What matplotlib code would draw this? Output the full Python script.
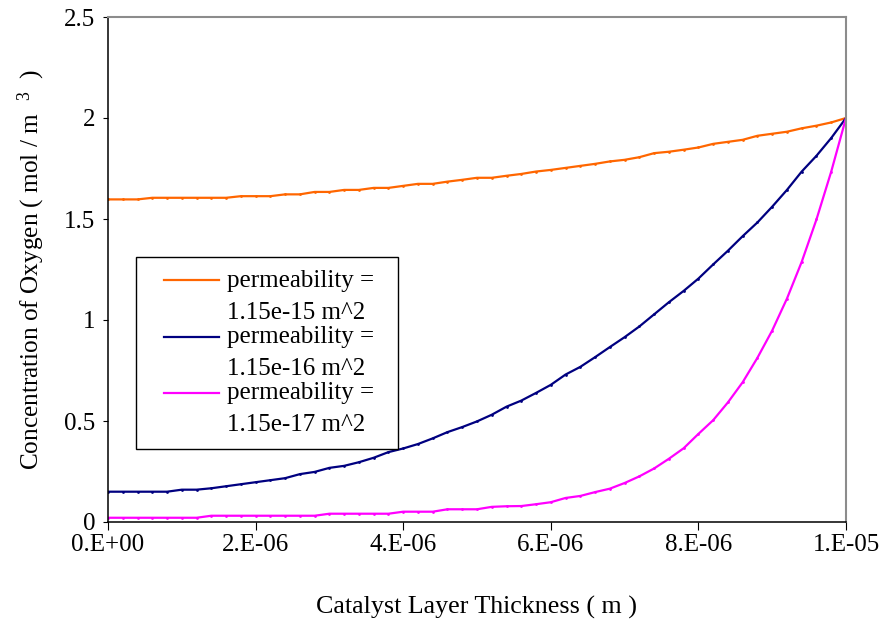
import numpy as np
import matplotlib
matplotlib.use("Agg")
import matplotlib.pyplot as plt

plt.rcParams['font.family'] = ['Liberation Serif', 'DejaVu Serif']
plt.rcParams['mathtext.fontset'] = 'custom'
plt.rcParams['mathtext.rm'] = 'Liberation Serif'
plt.rcParams['mathtext.it'] = 'Liberation Serif:italic'

# ---- data ----
thickness = [0.0, 0.2e-6, 0.4e-6, 0.6e-6, 0.8e-6, 1.0e-6, 1.2e-6, 1.4e-6, 1.6e-6, 1.8e-6,
             2.0e-6, 2.2e-6, 2.4e-6, 2.6e-6, 2.8e-6, 3.0e-6, 3.2e-6, 3.4e-6, 3.6e-6, 3.8e-6,
             4.0e-6, 4.2e-6, 4.4e-6, 4.6e-6, 4.8e-6, 5.0e-6, 5.2e-6, 5.4e-6, 5.6e-6, 5.8e-6,
             6.0e-6, 6.2e-6, 6.4e-6, 6.6e-6, 6.8e-6, 7.0e-6, 7.2e-6, 7.4e-6, 7.6e-6, 7.8e-6,
             8.0e-6, 8.2e-6, 8.4e-6, 8.6e-6, 8.8e-6, 9.0e-6, 9.2e-6, 9.4e-6, 9.6e-6, 9.8e-6,
             1.0e-5]

conc_k15 = [1.597, 1.597, 1.597, 1.605, 1.605, 1.605, 1.605, 1.605, 1.605, 1.613,
            1.613, 1.613, 1.622, 1.622, 1.634, 1.634, 1.644, 1.644, 1.654, 1.654,
            1.664, 1.674, 1.674, 1.685, 1.694, 1.704, 1.704, 1.714, 1.723, 1.735,
            1.743, 1.753, 1.763, 1.773, 1.785, 1.793, 1.806, 1.826, 1.833, 1.843,
            1.854, 1.872, 1.882, 1.892, 1.912, 1.922, 1.932, 1.949, 1.962, 1.978,
            2.000]

conc_k16 = [0.150, 0.150, 0.150, 0.150, 0.150, 0.160, 0.160, 0.167, 0.177, 0.187,
            0.197, 0.207, 0.217, 0.237, 0.248, 0.268, 0.278, 0.296, 0.318, 0.346,
            0.364, 0.386, 0.414, 0.445, 0.470, 0.498, 0.531, 0.571, 0.601, 0.639,
            0.679, 0.730, 0.768, 0.816, 0.866, 0.915, 0.968, 1.028, 1.088, 1.144,
            1.205, 1.275, 1.343, 1.415, 1.483, 1.561, 1.644, 1.735, 1.813, 1.901,
            2.000]

conc_k17 = [0.021, 0.021, 0.021, 0.021, 0.021, 0.021, 0.021, 0.031, 0.031, 0.031,
            0.031, 0.031, 0.031, 0.031, 0.031, 0.041, 0.041, 0.041, 0.041, 0.041,
            0.051, 0.051, 0.051, 0.063, 0.063, 0.063, 0.075, 0.078, 0.079, 0.088,
            0.098, 0.119, 0.129, 0.148, 0.165, 0.193, 0.226, 0.265, 0.313, 0.365,
            0.436, 0.504, 0.592, 0.692, 0.813, 0.948, 1.106, 1.288, 1.498, 1.735,
            2.000]

series_labels = ["permeability =\n1.15e-15 m^2",
                 "permeability =\n1.15e-16 m^2",
                 "permeability =\n1.15e-17 m^2"]
series_colors = ["#FF6600", "#000080", "#FF00FF"]

x_ticks = [0.0, 2e-6, 4e-6, 6e-6, 8e-6, 1e-5]
x_tick_labels = ["0.E+00", "2.E-06", "4.E-06", "6.E-06", "8.E-06", "1.E-05"]
y_ticks = [0, 0.5, 1.0, 1.5, 2.0, 2.5]
y_tick_labels = ["0", "0.5", "1", "1.5", "2", "2.5"]

# ---- figure ----
W, H = 881, 622
fig = plt.figure(figsize=(W / 100, H / 100), dpi=100)
ax = fig.add_axes([108 / W, 100 / H, 738 / W, 505 / H])

for yv, lab, col in zip([conc_k15, conc_k16, conc_k17], series_labels, series_colors):
    ax.plot(thickness, yv, color=col, lw=1.6, marker='o', markersize=2.0,
            markeredgewidth=0, label=lab)

ax.set_xlim(0, 1e-5)
ax.set_ylim(0, 2.5)
ax.set_xticks(x_ticks)
ax.set_xticklabels(x_tick_labels)
ax.set_yticks(y_ticks)
ax.set_yticklabels(y_tick_labels)

ax.tick_params(axis='y', direction='out', length=3.8, width=0.8, pad=5.5,
               labelsize=18, colors='black')
ax.tick_params(axis='x', direction='out', length=5.5, width=0.8, pad=3,
               labelsize=18, colors='black')

for s in ['left', 'bottom']:
    ax.spines[s].set_color('black')
    ax.spines[s].set_linewidth(1.1)
for s in ['top', 'right']:
    ax.spines[s].set_color('#8c8c8c')
    ax.spines[s].set_linewidth(1.5)

ax.set_xlabel("Catalyst Layer Thickness ( m )", fontsize=18.7, va='center')
ax.xaxis.set_label_coords(0.5, (522 - 607) / 505)
ax.set_ylabel("Concentration of Oxygen ( mol / m  $^{3}$  )", fontsize=18.2, va='center')
ax.yaxis.set_label_coords((31 - 108) / 738, 0.5)

leg = ax.legend(loc='upper left',
                bbox_to_anchor=((136 - 108) / 738, (522 - 446) / 505,
                                (398 - 136) / 738, (446 - 257) / 505),
                mode='expand', borderaxespad=0, fontsize=18, frameon=True,
                fancybox=False, edgecolor='black', framealpha=1,
                handlelength=2.83, handletextpad=0.3, labelspacing=0.08,
                borderpad=0.5, numpoints=1)
leg.get_frame().set_linewidth(1.0)
for t in leg.get_texts():
    t.set_linespacing(1.6)
for ln in leg.get_lines():
    ln.set_marker('None')
    xd = np.asarray(ln.get_xdata(), dtype=float)
    yd = np.asarray(ln.get_ydata(), dtype=float)
    x1 = xd[-1]
    ln.set_xdata(np.linspace(x1 - 39.6, x1, len(xd)))
    ln.set_ydata(yd + 11.5)

fig.savefig("out.png", dpi=100)
